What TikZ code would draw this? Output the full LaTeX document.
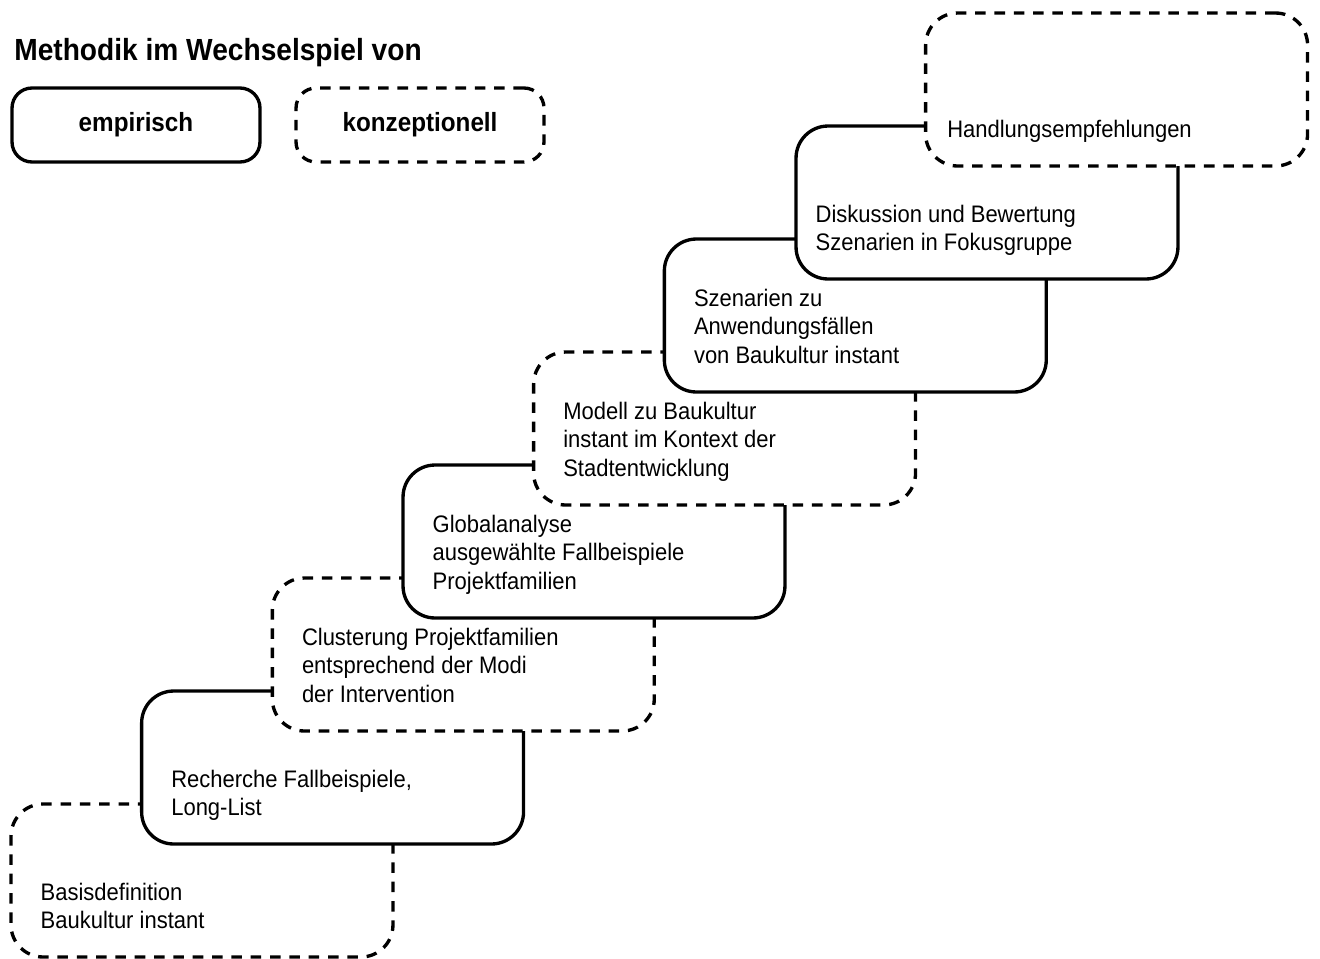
\documentclass[tikz,border=0pt]{standalone}
\usepackage{fontspec}
\setmainfont[FakeStretch=0.92]{Liberation Sans}
\usetikzlibrary{positioning}
\tikzset{>=stealth}
\tikzset{
  stepbox/.style={rectangle, draw, fill=white, line width=1.9pt, rounded corners=0.64cm, minimum width=7.64cm, minimum height=3.06cm},
  legendbox/.style={rectangle, draw, fill=white, line width=1.9pt, rounded corners=0.4cm, minimum width=4.96cm, minimum height=1.48cm, font=\fontsize{15}{18}\selectfont\bfseries},
  konzept/.style={dash pattern=on 6pt off 5pt},
  steptext/.style={inner sep=0pt, align=left, font=\fontsize{13.6}{16.4}\selectfont}
}

\begin{document}
\begin{tikzpicture}[x=0.02cm, y=-0.02cm]
\useasboundingbox (0,0) rectangle (1320,958);

% Legende
\node[anchor=base west, inner sep=0pt, font=\fontsize{17.4}{20}\selectfont\bfseries] (titel) at (14,60) {Methodik im Wechselspiel von};
\node[legendbox] (empirisch) at (136,125) {empirisch};
\node[legendbox, konzept] (konzeptionell) at (420,125) {konzeptionell};

% Stufen, von unten nach oben
\node[stepbox, konzept] (basis) at (202,880.5) {};
\node[steptext, below right=1.6cm and 0.62cm of basis.north west] (basis-t) {Basisdefinition\\Baukultur instant};

\node[stepbox] (recherche) at (332.6,767.5) {};
\node[steptext, below right=1.6cm and 0.62cm of recherche.north west] (recherche-t) {Recherche Fallbeispiele,\\Long-List};

\node[stepbox, konzept] (cluster) at (463.3,654.5) {};
\node[steptext, below right=1.02cm and 0.62cm of cluster.north west] (cluster-t) {Clusterung Projektfamilien\\entsprechend der Modi\\der Intervention};

\node[stepbox] (global) at (594,541.5) {};
\node[steptext, below right=1.02cm and 0.62cm of global.north west] (global-t) {Globalanalyse\\ausgewählte Fallbeispiele\\Projektfamilien};

\node[stepbox, konzept] (modell) at (724.6,428.5) {};
\node[steptext, below right=1.02cm and 0.62cm of modell.north west] (modell-t) {Modell zu Baukultur\\instant im Kontext der\\Stadtentwicklung};

\node[stepbox] (szenarien) at (855.3,315.5) {};
\node[steptext, below right=1.02cm and 0.62cm of szenarien.north west] (szenarien-t) {Szenarien zu\\Anwendungsfällen\\von Baukultur instant};

\node[stepbox] (diskussion) at (987,202.5) {};
\node[steptext, below right=1.6cm and 0.42cm of diskussion.north west] (diskussion-t) {Diskussion und Bewertung\\Szenarien in Fokusgruppe};

\node[stepbox, konzept] (handlung) at (1116.6,89.5) {};
\node[steptext, below right=2.18cm and 0.46cm of handlung.north west] (handlung-t) {Handlungsempfehlungen};

\end{tikzpicture}
\end{document}
